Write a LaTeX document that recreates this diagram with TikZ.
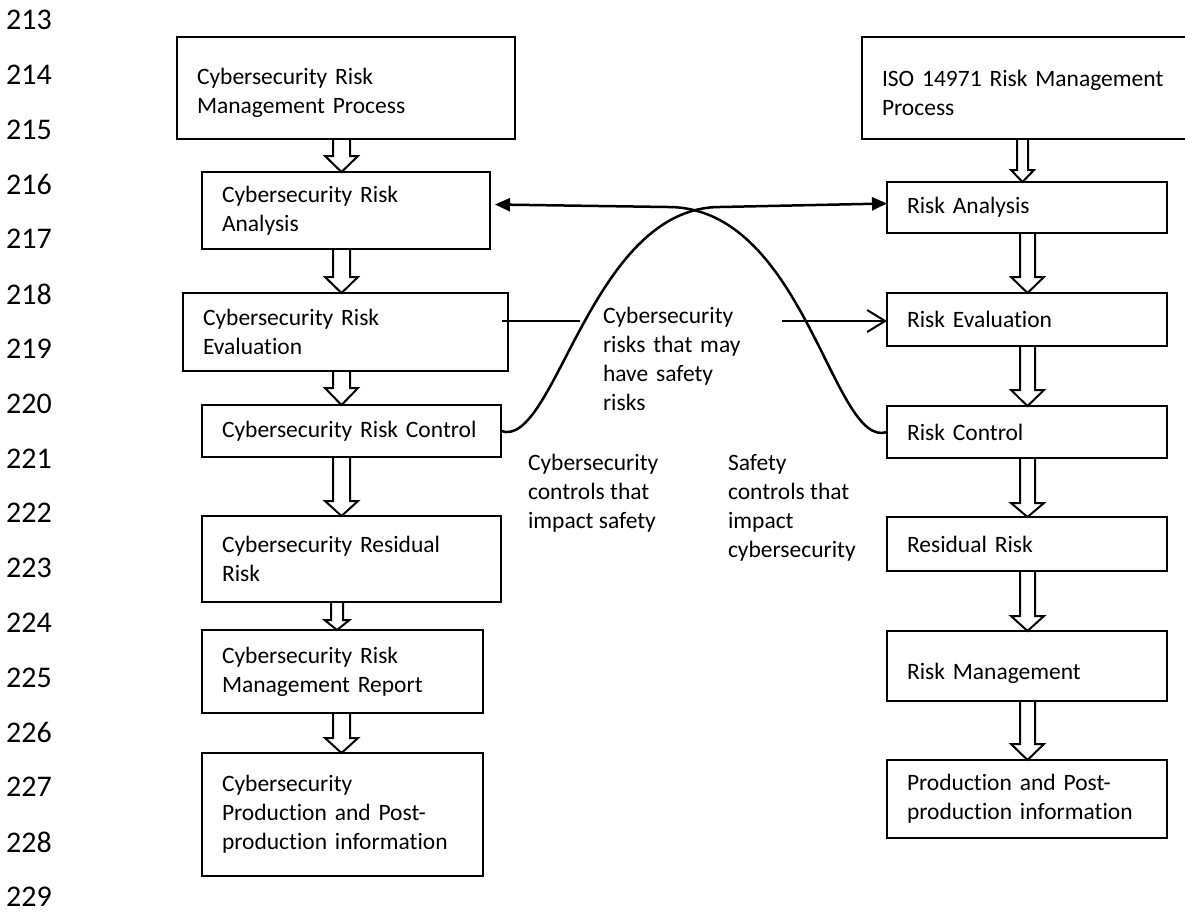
\documentclass[tikz,border=0pt]{standalone}
\usepackage{fontspec}
\setmainfont{Carlito}[Ligatures=NoCommon]
\usetikzlibrary{arrows.meta,calc}
\newcommand\boxfont{\fontsize{23.5pt}{29pt}\selectfont}
\newcommand\linenofont{\fontsize{30pt}{36pt}\selectfont}
% hollow block arrow from the bottom of #1 to the top of #2 at x=#3
\newcommand{\hollowarrow}[6]{%
  \draw[blockarrow] let \p1=(#1.south), \p2=(#2.north) in
    (#3-#4,\y1) -- (#3-#4,\y2+#6) -- (#3-#5,\y2+#6) -- (#3,\y2)
    -- (#3+#5,\y2+#6) -- (#3+#4,\y2+#6) -- (#3+#4,\y1);}
\tikzset{
  box/.style={draw, line width=2pt, rectangle, align=left, inner xsep=20pt,
    inner ysep=0pt, outer sep=0pt, font=\boxfont},
  lbl/.style={align=left, inner sep=0pt, outer sep=0pt, font=\boxfont, anchor=west},
  lineno/.style={anchor=west, inner sep=0pt, font=\linenofont},
  blockarrow/.style={draw, line width=2pt, line join=miter},
  link/.style={line width=2.5pt},
  tri/.style={-{Triangle[length=15pt,width=13pt]}},
  barb/.style={-{Straight Barb[length=18pt,width=22pt]}}
}
\begin{document}
\begin{tikzpicture}[x=1pt,y=-1pt]
\clip (0,0) rectangle (1185,913);
\fill[white] (0,0) rectangle (1185,913);

% line numbers
\foreach \n [count=\i from 0] in {213,...,229}
  \node[lineno] (n\n) at (6,20+54.8*\i) {\n};

% left column
\node[box, minimum width=338pt, text width=298pt, minimum height=102pt] (cprocess) at (346,88)
  {\rule{0pt}{27pt}Cybersecurity Risk\\Management Process};
\node[box, minimum width=288pt, text width=248pt, minimum height=77pt] (canalysis) at (346,210.5)
  {Cybersecurity Risk\\Analysis};
\node[box, minimum width=325pt, text width=285pt, minimum height=78pt] (ceval) at (345.5,332)
  {Cybersecurity Risk\\Evaluation};
\node[box, minimum width=299pt, text width=259pt, minimum height=52pt] (ccontrol) at (351.5,431)
  {\mbox{Cybersecurity Risk Control}};
\node[box, minimum width=299pt, text width=259pt, minimum height=86pt] (cresidual) at (351.5,559)
  {\mbox{Cybersecurity Residual}\\Risk};
\node[box, minimum width=281pt, text width=241pt, minimum height=83pt] (creport) at (342.5,671.5)
  {Cybersecurity Risk\\\mbox{Management Report}};
\node[box, minimum width=281pt, text width=241pt, minimum height=123pt] (cprod) at (342.5,814.5)
  {Cybersecurity\\Production and Post-\\\mbox{production information}};

% right column
\node[box, minimum width=330pt, text width=290pt, minimum height=102pt] (iprocess) at (1027,88)
  {\rule{0pt}{27pt}\mbox{ISO 14971 Risk Management}\\Process};
\node[box, minimum width=280pt, text width=240pt, minimum height=51pt] (ianalysis) at (1027,207.5)
  {Risk Analysis};
\node[box, minimum width=280pt, text width=240pt, minimum height=53pt] (ieval) at (1027,319.5)
  {Risk Evaluation};
\node[box, minimum width=280pt, text width=240pt, minimum height=52pt] (icontrol) at (1027,432)
  {Risk Control};
\node[box, minimum width=280pt, text width=240pt, minimum height=54pt] (iresidual) at (1027,544)
  {Residual Risk};
\node[box, minimum width=280pt, text width=240pt, minimum height=70pt] (imgmt) at (1027,666)
  {\raisebox{-7pt}[\height][\depth]{Risk Management}};
\node[box, minimum width=280pt, text width=240pt, minimum height=78pt] (iprod) at (1027,799)
  {Production and Post-\\\mbox{production information}};

% block arrows
\hollowarrow{cprocess}{canalysis}{341.5}{8.5}{16.5}{16}
\hollowarrow{canalysis}{ceval}{341.5}{8.5}{16.5}{16}
\hollowarrow{ceval}{ccontrol}{341.5}{8.5}{16.5}{17}
\hollowarrow{ccontrol}{cresidual}{341.5}{8.5}{16.5}{15}
\hollowarrow{cresidual}{creport}{337}{6}{12.5}{10}
\hollowarrow{creport}{cprod}{341.5}{8.5}{16.5}{15}
\hollowarrow{iprocess}{ianalysis}{1022.5}{5.5}{11.5}{12}
\hollowarrow{ianalysis}{ieval}{1027.5}{7.5}{16.5}{16}
\hollowarrow{ieval}{icontrol}{1027.5}{7.5}{16.5}{16}
\hollowarrow{icontrol}{iresidual}{1027.5}{7.5}{16.5}{14}
\hollowarrow{iresidual}{imgmt}{1027.5}{7.5}{16.5}{15}
\hollowarrow{imgmt}{iprod}{1027.5}{7.5}{16.5}{16}

% evaluation link with its label
\draw[line width=2pt, barb] ($(ceval.east |- ieval.west)+(-6,1.5)$) -- ($(ieval.west)+(0,1.5)$);
\node[lbl, fill=white, text width=156pt, inner xsep=23pt] (lrisks) at (580,359)
  {Cybersecurity\\risks that may\\have safety\\risks};

% crossing control links
\draw[link, tri] (ccontrol.east) .. controls (555,450) and (590,207) .. (720,207)
  -- ($(ianalysis.west)+(0,-4)$);
\draw[link, tri] (icontrol.west) .. controls (833,450) and (805,207) .. (668,207)
  -- ($(canalysis.east)+(5,-6)$);

\node[lbl] (lcyber) at (528,493) {Cybersecurity\\controls that\\impact safety};
\node[lbl] (lsafety) at (728,507.5) {Safety\\controls that\\impact\\cybersecurity};
\end{tikzpicture}
\end{document}
